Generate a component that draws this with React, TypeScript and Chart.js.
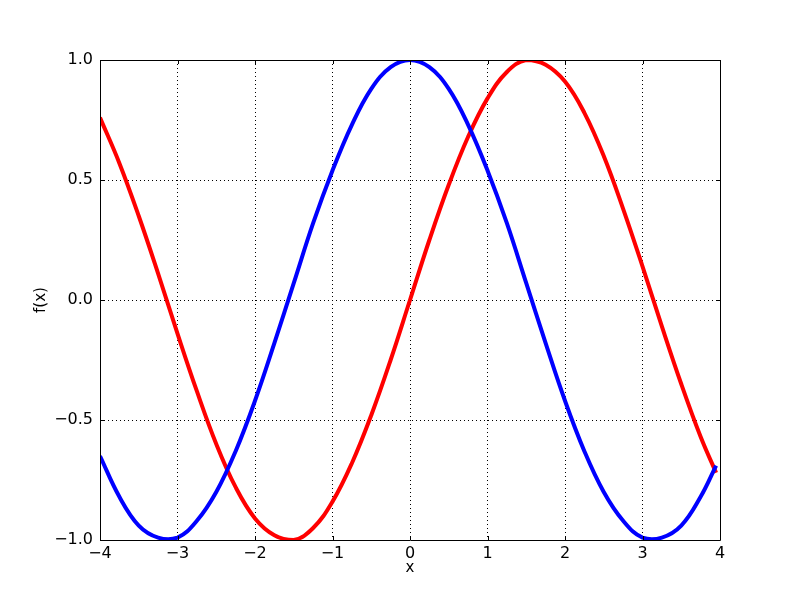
import React, { useEffect, useRef } from "react";
import { Chart, registerables } from "chart.js";

Chart.register(...registerables);

const xValues = [-4, -3.75, -3.5, -3.25, -3, -2.75, -2.5, -2.25, -2, -1.75, -1.5, -1.25, -1, -0.75, -0.5, -0.25, 0, 0.25, 0.5, 0.75, 1, 1.25, 1.5, 1.75, 2, 2.25, 2.5, 2.75, 3, 3.25, 3.5, 3.75, 3.95];
const blueValues = [-0.65, -0.82, -0.94, -0.99, -0.99, -0.92, -0.8, -0.63, -0.42, -0.18, 0.07, 0.32, 0.54, 0.73, 0.88, 0.97, 1.0, 0.97, 0.88, 0.73, 0.54, 0.32, 0.07, -0.18, -0.42, -0.63, -0.8, -0.92, -0.99, -0.99, -0.94, -0.82, -0.69];
const redValues = [0.76, 0.57, 0.35, 0.11, -0.14, -0.38, -0.6, -0.78, -0.91, -0.98, -1.0, -0.95, -0.84, -0.68, -0.48, -0.25, 0, 0.25, 0.48, 0.68, 0.84, 0.95, 1.0, 0.98, 0.91, 0.78, 0.6, 0.38, 0.14, -0.11, -0.35, -0.57, -0.72];
const xTickValues = [-4, -3, -2, -1, 0, 1, 2, 3, 4];
const yTickValues = [-1, -0.5, 0, 0.5, 1];
const xTitle = "x";
const yTitle = "f(x)";

const FONT = "'DejaVu Sans', sans-serif";

const fmtMinus = (s: string) => s.replace("-", "\u2212");

const framePlugin = {
  id: "frame",
  afterDraw(chart: any) {
    const { ctx, chartArea } = chart;
    const { left, right, top, bottom } = chartArea;
    const xs = chart.scales.x;
    const ys = chart.scales.y;
    ctx.save();
    ctx.strokeStyle = "#000";
    ctx.lineWidth = 1;
    ctx.beginPath();
    ctx.rect(Math.round(left) + 0.5, Math.round(top) + 0.5, Math.round(right - left), Math.round(bottom - top));
    ctx.stroke();
    const tl = 4;
    ctx.beginPath();
    xTickValues.forEach((v) => {
      const px = Math.round(xs.getPixelForValue(v)) + 0.5;
      ctx.moveTo(px, bottom);
      ctx.lineTo(px, bottom - tl);
      ctx.moveTo(px, top);
      ctx.lineTo(px, top + tl);
    });
    yTickValues.forEach((v) => {
      const py = Math.round(ys.getPixelForValue(v)) + 0.5;
      ctx.moveTo(left, py);
      ctx.lineTo(left + tl, py);
      ctx.moveTo(right, py);
      ctx.lineTo(right - tl, py);
    });
    ctx.stroke();
    ctx.fillStyle = "#000";
    ctx.font = `15px ${FONT}`;
    ctx.textAlign = "center";
    ctx.textBaseline = "middle";
    ctx.fillText(xTitle, (left + right) / 2, 568);
    ctx.translate(41, (top + bottom) / 2);
    ctx.rotate(-Math.PI / 2);
    ctx.fillText(yTitle, 0, 0);
    ctx.restore();
  },
};

export default function App() {
  const ref = useRef<HTMLCanvasElement>(null);
  useEffect(() => {
    if (!ref.current) return;
    const chart = new Chart(ref.current, {
      type: "line",
      data: {
        datasets: [
          {
            data: xValues.map((x, i) => ({ x, y: blueValues[i] })),
            borderColor: "#0000ff",
            borderWidth: 4,
            pointRadius: 0,
            tension: 0.4,
            clip: 0,
          },
          {
            data: xValues.map((x, i) => ({ x, y: redValues[i] })),
            borderColor: "#ff0000",
            borderWidth: 4,
            pointRadius: 0,
            tension: 0.4,
            clip: 0,
          },
        ],
      },
      options: {
        responsive: false,
        animation: false,
        layout: { padding: { left: 0, top: 60, right: 80, bottom: 0 } },
        plugins: { legend: { display: false }, tooltip: { enabled: false } },
        scales: {
          x: {
            type: "linear",
            min: -4,
            max: 4,
            afterFit: (s: any) => { s.height = 60; },
            afterBuildTicks: (s: any) => { s.ticks = xTickValues.map((v) => ({ value: v })); },
            grid: { color: "#000", lineWidth: 1, borderDash: [1, 3], drawTicks: false },
            border: { display: false, dash: [1, 3] },
            ticks: {
              padding: 4,
              color: "#000",
              font: { family: FONT, size: 16 },
              callback: (v: any) => fmtMinus(String(v)),
              maxRotation: 0,
            },
          },
          y: {
            type: "linear",
            min: -1,
            max: 1,
            afterFit: (s: any) => { s.width = 100; },
            afterBuildTicks: (s: any) => { s.ticks = yTickValues.map((v) => ({ value: v })); },
            grid: { color: "#000", lineWidth: 1, borderDash: [1, 3], drawTicks: false },
            border: { display: false, dash: [1, 3] },
            ticks: {
              padding: 7,
              color: "#000",
              font: { family: FONT, size: 16 },
              callback: (v: any) => fmtMinus(Number(v).toFixed(1)),
            },
          },
        },
      },
      plugins: [framePlugin],
    } as any);
    return () => chart.destroy();
  }, []);
  return (
    <div style={{ position: "absolute", left: 0, top: 0, width: 800, height: 600, background: "#fff" }}>
      <canvas ref={ref} width={800} height={600} style={{ width: 800, height: 600 }} />
    </div>
  );
}
